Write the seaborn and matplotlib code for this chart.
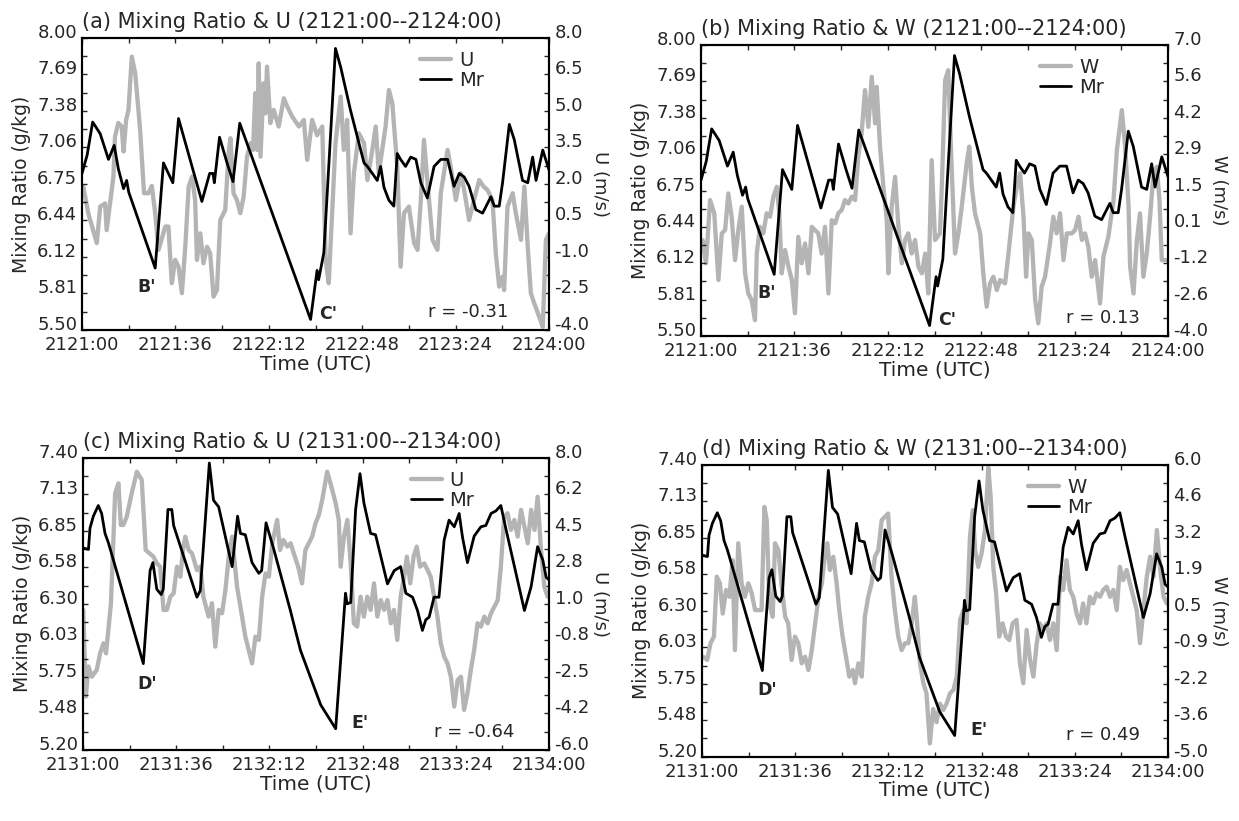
import numpy as np
import matplotlib
matplotlib.use('Agg')
import matplotlib.pyplot as plt
import seaborn as sns

# seconds after the start of each 3-minute window
mr1_t = [0, 2.0, 4.1, 7.0, 10.2, 12.4, 14.0, 16.0, 17.2, 18.0, 28.2, 31.4, 35.0, 37.2, 46.2, 49.2, 50.5, 51.0, 53.0, 55.9,
         58.2, 60.8, 61.6, 88.1, 90.6, 91.2, 93.2, 97.7, 99.7, 103.5, 108.7, 110.0, 111.9, 113.8, 115.1, 116.4, 118.3, 120.2, 121.5, 122.8,
         124.7, 126.7, 128.7, 130.6, 133.1, 135.7, 138.3, 140.9, 143.4, 145.4, 147.3, 149.2, 151.8, 154.4, 157.6, 158.9, 160.8, 162.1, 164.7, 166.6,
         169.8, 171.8, 173.7, 175.0, 177.6, 180.0]
mr1 = [6.84, 7.0, 7.28, 7.18, 6.96, 7.08, 6.88, 6.71, 6.78, 6.68, 6.03, 6.93, 6.76, 7.31, 6.60, 6.84, 6.84, 6.76, 7.15, 6.93,
       6.77, 7.27, 7.22, 5.59, 6.01, 5.93, 6.16, 7.91, 7.75, 7.38, 6.93, 6.90, 6.84, 6.78, 6.90, 6.72, 6.61, 6.56, 7.01, 6.96,
       6.90, 6.98, 6.96, 6.76, 6.63, 6.90, 6.96, 6.96, 6.73, 6.84, 6.81, 6.73, 6.53, 6.50, 6.64, 6.56, 6.56, 6.76, 7.26, 7.13,
       6.78, 6.76, 6.98, 6.78, 7.04, 6.87]

u1_t = [0.5, 2.4, 5.7, 7.0, 8.9, 9.5, 10.8, 12.1, 12.7, 14.0, 15.3, 16.0, 17.0, 17.9, 19.2, 20.5, 22.4, 23.9, 25.6, 26.9,
        28.2, 29.5, 32.1, 33.3, 34.6, 35.9, 37.2, 38.5, 39.8, 41.1, 42.4, 43.6, 44.3, 45.6, 46.8, 48.2, 49.4, 50.7, 52.0, 53.3,
        55.2, 56.5, 57.2, 58.4, 59.7, 61.0, 62.3, 63.6, 64.9, 65.9, 66.8, 67.5, 68.1, 68.8, 70.0, 70.7, 71.3, 72.6, 73.9, 75.8,
        77.8, 79.1, 81.0, 83.6, 85.5, 86.8, 88.7, 90.6, 92.6, 93.9, 95.1, 97.7, 99.7, 100.9, 102.2, 103.5, 104.8, 106.7, 108.7, 110.0,
        111.9, 113.2, 114.4, 117.0, 118.3, 119.6, 121.5, 122.8, 124.1, 126.0, 128.0, 129.3, 130.6, 131.8, 133.1, 135.1, 137.0, 138.3, 140.9, 142.1,
        144.1, 146.0, 147.3, 149.2, 151.1, 153.1, 154.8, 156.3, 158.2, 159.5, 160.8, 162.1, 162.7, 164.0, 166.0, 167.2, 169.2, 170.5, 171.8, 173.0,
        174.3, 176.2, 177.6, 178.8, 180.0]
u1 = [1.89, 0.8, -0.43, 1.07, 1.2, 0.1, 1.2, 2.3, 3.94, 4.5, 4.36, 3.33, 4.63, 5.04, 7.23, 6.55, 4.22, 1.62, 1.62, 1.92,
      0.8, -0.71, 0.25, 0.25, -2.08, -1.12, -1.4, -2.49, -0.58, 1.89, 2.3, 1.34, -1.12, -0.03, -1.26, -0.58, -0.85, -2.63, -2.36, 0.52,
      0.93, 3.26, 3.88, 1.62, 1.34, 0.8, 1.48, 3.12, 3.67, 3.4, 5.73, 3.4, 6.96, 3.12, 6.14, 4.9, 6.82, 4.5, 5.04, 4.36,
      5.52, 5.18, 4.77, 4.36, 4.63, 2.99, 4.63, 4.0, 4.36, -1.12, -2.08, 3.67, 5.59, 3.4, 4.63, -0.03, 2.44, 4.08, 3.67, 2.16,
      3.4, 4.36, 2.44, 4.36, 5.86, 5.32, 2.71, -1.4, 0.8, 1.07, -0.43, -0.71, 1.34, 3.81, 2.16, -0.3, -0.71, 1.62, 3.4, 2.71,
      1.34, 2.44, 1.75, 0.52, 1.34, 2.16, 1.89, 1.75, 1.34, -0.85, -2.22, -1.81, -2.36, 1.07, 1.62, 0.8, -0.3, 1.89, -0.58, -2.49,
      -2.9, -3.45, -3.87, -0.3, -0.03]

w1_t = [0.6, 1.9, 3.5, 5.1, 6.7, 8.0, 9.3, 10.5, 11.8, 13.1, 14.4, 15.7, 17.0, 18.2, 19.5, 20.8, 21.5, 22.7, 24.0, 25.3,
        26.6, 27.9, 29.2, 30.2, 31.1, 32.4, 33.7, 35.0, 36.2, 37.5, 38.8, 40.1, 41.4, 42.7, 43.9, 45.2, 46.5, 47.8, 49.1, 50.4,
        51.7, 52.9, 54.2, 55.5, 56.8, 58.1, 59.4, 60.6, 61.9, 63.2, 64.5, 65.8, 67.1, 67.7, 69.0, 70.3, 71.6, 72.2, 73.5, 74.8,
        76.1, 77.4, 78.6, 79.9, 81.2, 82.5, 83.8, 85.1, 86.4, 87.6, 88.9, 90.2, 92.1, 92.8, 94.1, 95.3, 96.6, 97.9, 99.2, 100.5,
        102.4, 103.4, 104.4, 105.6, 107.6, 108.8, 110.1, 111.4, 112.7, 114.0, 115.3, 117.2, 118.5, 120.4, 121.7, 123.0, 124.3, 125.3, 126.2, 127.5,
        128.8, 130.0, 131.3, 132.6, 134.5, 135.8, 137.1, 138.4, 139.7, 141.0, 142.9, 144.2, 145.5, 146.8, 148.0, 149.3, 150.6, 151.9, 153.8, 155.1,
        157.0, 159.0, 160.3, 162.2, 163.5, 164.8, 165.4, 166.7, 168.0, 169.2, 170.5, 171.8, 173.1, 174.4, 175.7, 176.7, 177.6, 179.5]
w1 = [-0.37, -1.25, 1.14, 0.64, -1.88, -0.12, 0.01, 1.39, 0.51, -1.13, 0.01, 0.89, -1.63, -2.39, -2.64, -3.40, -0.88, 0.13, -0.12, 0.64,
      0.51, 1.27, 1.64, 0.64, -1.63, -0.75, -1.38, -1.88, -3.14, -0.25, -1.25, -0.50, -1.63, 0.13, 0.01, -0.12, -0.88, 0.13, -2.39, 0.38,
      0.26, 0.64, 0.76, 1.14, 1.01, 1.27, 1.14, 2.78, 3.66, 5.30, 3.91, 5.80, 4.04, 5.42, 3.16, 1.64, 0.38, -1.63, 0.89, 2.02,
      0.13, -1.25, -0.37, -0.12, -0.88, -0.37, -1.38, -1.63, -0.88, -2.39, 2.65, -0.37, -0.12, 1.64, 5.68, 6.05, 2.40, -0.88, -0.12, 0.89,
      2.53, 3.16, 1.64, 0.64, -0.12, -1.63, -2.89, -2.01, -1.76, -2.26, -1.88, -2.01, -0.88, 0.89, 1.64, 2.15, 0.51, -1.76, -0.12, -0.37,
      -2.64, -3.52, -2.14, -1.76, -0.50, 0.51, -0.12, 0.64, -1.13, -0.12, -0.12, 0.01, 0.51, -0.37, -0.12, -0.63, -1.76, -1.13, -2.77, -1.00,
      -0.25, 1.14, 3.03, 4.54, 3.16, 0.89, -1.38, -2.39, -0.37, 0.64, -1.76, -0.88, 0.51, 2.15, 2.40, 1.14, -1.13, -1.13]

mr2_t = [0.1, 2.1, 2.7, 4.0, 5.9, 7.2, 8.5, 9.8, 23.3, 25.9, 27.0, 28.5, 30.2, 31.0, 32.8, 34.3, 35.0, 44.0, 45.3, 48.8,
         50.4, 52.4, 57.6, 59.7, 60.8, 62.7, 65.3, 67.9, 69.0, 70.7, 73.7, 80.1, 84.0, 91.8, 97.6, 101.4, 102.0, 103.4, 105.3, 107.0,
         108.5, 111.1, 113.0, 117.6, 118.9, 120.2, 122.7, 124.7, 127.3, 129.2, 131.1, 132.4, 133.7, 135.6, 137.5, 139.5, 141.4, 143.4, 145.3, 146.6,
         148.5, 151.1, 153.7, 155.6, 157.6, 159.5, 161.4, 163.4, 170.5, 173.1, 175.6, 177.6, 178.9, 180.0]
mr2 = [6.72, 6.71, 6.87, 6.96, 7.04, 6.98, 6.83, 6.76, 5.85, 6.55, 6.61, 6.41, 6.37, 6.41, 7.01, 7.01, 6.89, 6.35, 6.40, 7.36,
       7.08, 7.03, 6.58, 6.96, 6.83, 6.82, 6.61, 6.53, 6.55, 6.91, 6.71, 6.25, 5.95, 5.54, 5.36, 6.38, 6.30, 6.31, 7.01, 7.28,
       7.06, 6.83, 6.82, 6.45, 6.50, 6.55, 6.58, 6.38, 6.35, 6.25, 6.10, 6.18, 6.20, 6.35, 6.35, 6.78, 6.93, 6.88, 6.98, 6.80,
       6.61, 6.81, 6.88, 6.89, 6.98, 7.00, 7.04, 6.86, 6.25, 6.43, 6.73, 6.63, 6.50, 6.48]

u2_t = [0.1, 1.1, 2.1, 3.4, 5.3, 6.6, 7.9, 8.9, 9.8, 10.8, 12.4, 13.7, 14.6, 15.6, 16.9, 18.8, 20.8, 22.7, 24.2, 25.7,
        27.2, 28.5, 29.8, 31.1, 32.4, 33.7, 35.0, 36.3, 37.6, 38.6, 39.5, 40.8, 42.1, 44.0, 45.3, 46.5, 48.5, 49.8, 51.1, 52.4,
        53.7, 55.0, 56.3, 57.6, 59.5, 60.8, 62.7, 64.0, 65.3, 66.6, 67.9, 69.2, 70.5, 71.8, 73.1, 75.0, 76.1, 77.4, 78.9, 80.2,
        81.4, 83.1, 84.6, 85.9, 87.2, 88.5, 89.8, 91.1, 92.4, 94.3, 95.6, 97.6, 98.8, 99.5, 100.8, 102.1, 103.4, 104.6, 105.9, 107.2,
        108.5, 109.8, 111.1, 112.4, 113.7, 115.0, 116.3, 117.6, 118.9, 120.1, 121.4, 122.7, 124.0, 125.1, 126.4, 127.7, 128.9, 130.2, 131.8, 133.1,
        134.3, 135.6, 136.9, 138.2, 139.5, 140.8, 142.1, 143.4, 144.7, 146.0, 147.2, 148.5, 149.8, 151.1, 152.4, 153.7, 155.0, 156.3, 157.6, 158.9,
        160.2, 161.4, 162.7, 164.0, 165.3, 166.6, 167.9, 169.2, 170.5, 171.8, 173.1, 174.4, 175.6, 176.9, 178.2, 179.5]
u2 = [0.71, -3.44, -2.0, -2.49, -2.17, -1.37, -0.89, -1.37, -0.25, 1.03, 6.29, 6.77, 4.78, 4.78, 5.18, 6.29, 7.33, 6.93, 3.58, 3.42,
      3.26, 2.94, 2.78, 0.71, 0.71, 1.34, 1.5, 2.78, 2.30, 3.58, 4.22, 3.58, 3.42, 2.62, 2.78, 1.34, 0.39, 1.03, -1.05, 0.71,
      0.55, 1.66, 3.26, 4.22, 1.82, 0.87, -0.57, -1.21, -1.85, -0.57, -0.73, 1.34, 2.46, 2.30, 3.90, 5.02, 3.58, 4.06, 3.74, 3.90,
      3.42, 2.78, 1.98, 3.58, 3.90, 4.22, 4.86, 5.26, 5.98, 7.33, 6.77, 5.82, 5.02, 2.78, 4.22, 5.02, 2.94, 0.07, -0.09, 1.34,
      0.39, 1.34, 0.71, 1.98, 0.39, 1.18, 0.71, 1.18, 0.07, 0.71, -0.73, 1.34, 2.30, 3.26, 1.98, 3.26, 3.74, 2.78, 2.94, 2.62,
      2.30, 1.34, 0.39, -0.89, -1.53, -1.85, -2.49, -3.92, -2.65, -2.49, -4.08, -3.28, -2.17, -1.21, 0.07, -0.09, 0.39, 0.07, 0.55, 0.87,
      1.18, 2.78, 5.18, 5.34, 4.54, 5.02, 4.22, 5.50, 4.70, 3.90, 5.50, 4.54, 6.13, 3.58, 1.82, 1.34]

w2_t = [0.5, 2.0, 3.3, 4.6, 5.7, 6.9, 8.0, 9.3, 10.6, 11.8, 12.7, 14.0, 15.3, 16.6, 17.9, 19.2, 20.5, 21.8, 23.0, 24.1,
        25.0, 26.0, 27.3, 28.2, 29.5, 30.8, 32.1, 33.3, 34.6, 35.9, 37.2, 38.5, 39.8, 41.1, 42.4, 43.7, 45.0, 46.3, 47.5, 48.4,
        49.4, 50.7, 52.0, 53.0, 54.3, 55.6, 56.9, 58.2, 59.1, 60.4, 61.7, 62.9, 64.2, 65.5, 66.8, 68.1, 69.4, 70.7, 71.9, 73.2,
        74.5, 75.8, 77.1, 78.4, 79.7, 81.0, 82.2, 82.9, 84.2, 85.5, 86.7, 88.0, 89.3, 90.6, 91.9, 93.2, 94.5, 95.8, 97.1, 98.4,
        99.7, 101.0, 102.2, 103.5, 104.6, 105.5, 106.7, 108.0, 109.3, 110.6, 111.5, 112.5, 113.6, 114.8, 116.1, 117.4, 118.7, 120.0, 121.5, 122.8,
        124.1, 125.4, 126.7, 128.0, 129.3, 130.5, 131.8, 133.1, 134.4, 135.7, 137.0, 138.3, 139.5, 140.8, 142.1, 143.4, 144.7, 146.0, 147.2, 148.5,
        149.8, 151.1, 152.4, 153.7, 155.0, 156.3, 157.6, 158.9, 160.2, 161.4, 162.7, 164.0, 165.3, 166.6, 167.9, 169.2, 170.5, 171.8, 173.1, 174.4,
        175.7, 177.0, 178.3, 179.5]
w2 = [-1.23, -1.35, -0.72, -0.47, 1.79, 1.54, 0.40, 1.29, 1.03, 2.41, -0.98, 3.05, 1.54, 1.03, 1.54, 1.16, 0.53, 0.53, 0.53, 4.42,
      3.92, 0.78, 0.28, 3.05, 2.79, 1.41, 0.28, 0.03, -1.35, -0.47, -0.72, -1.48, -1.23, -1.73, -0.98, 0.03, 1.03, 1.54, 2.67, 3.05,
      2.04, 2.54, 1.54, 0.53, -0.47, -1.23, -1.98, -1.73, -2.23, -1.48, -1.98, 0.28, 1.03, 1.54, 2.54, 2.79, 3.92, 4.05, 4.17, 1.79,
      0.53, -0.47, -0.98, -0.72, -0.72, 0.03, 1.03, 0.28, -1.48, -2.23, -2.61, -4.50, -3.20, -3.70, -3.00, -3.24, -2.99, -2.61, -2.48, -1.98,
      0.16, 0.53, 0.03, 3.30, 4.30, 2.79, 2.16, 2.67, 3.55, 5.90, 4.80, 2.16, 1.16, -0.47, 0.03, -0.47, -0.60, 0.03, 0.16, -1.48,
      -2.23, -0.22, -1.35, -1.98, -0.72, 0.03, -0.22, 0.03, -0.60, 0.03, -0.98, 1.79, 1.29, 2.41, 1.29, 1.03, 0.40, 0.03, 0.78, 0.03,
      1.03, 0.78, 1.16, 1.03, 1.29, 1.41, 1.03, 1.29, 0.53, 2.16, 1.66, 2.04, 1.54, 1.03, 0.53, -0.72, 0.53, 1.79, 2.54, 1.79,
      3.55, 2.04, 1.03, 0.78]

times1 = ['2121:00', '2121:36', '2122:12', '2122:48', '2123:24', '2124:00']
times2 = ['2131:00', '2131:36', '2132:12', '2132:48', '2133:24', '2134:00']
mr_ticks1 = ['5.50', '5.81', '6.12', '6.44', '6.75', '7.06', '7.38', '7.69', '8.00']
mr_ticks2 = ['5.20', '5.48', '5.75', '6.03', '6.30', '6.58', '6.85', '7.13', '7.40']
u_ticks1 = ['-4.0', '-2.5', '-1.0', '0.5', '2.0', '3.5', '5.0', '6.5', '8.0']
w_ticks1 = ['-4.0', '-2.6', '-1.2', '0.1', '1.5', '2.9', '4.2', '5.6', '7.0']
u_ticks2 = ['-6.0', '-4.2', '-2.5', '-0.8', '1.0', '2.8', '4.5', '6.2', '8.0']
w_ticks2 = ['-5.0', '-3.6', '-2.2', '-0.9', '0.5', '1.9', '3.2', '4.6', '6.0']

sns.set_style('ticks')
plt.rcParams['font.family'] = ['DejaVu Sans']

GRAY = '#b4b4b4'
fig = plt.figure(figsize=(12.39, 8.21), dpi=100)


def panel(pos, mr_t, mr, v_t, v, vname, mr_lim, mr_labels, v_lim, v_labels, time_labels,
          title, notes, r_text, r_xy, leg_x):
    ax = fig.add_axes(pos)
    ax2 = ax.twinx()
    sns.lineplot(x=v_t, y=v, ax=ax2, color=GRAY, linewidth=3.1, label=vname, legend=False)
    sns.lineplot(x=mr_t, y=mr, ax=ax, color='black', linewidth=2.0, label='Mr', legend=False)
    ax.set_zorder(ax2.get_zorder() + 1)
    ax.patch.set_visible(False)

    ax.set_xlim(0, 180)
    ax.set_xticks(np.arange(0, 181, 36))
    ax.set_xticks(np.arange(18, 180, 36), minor=True)
    ax.set_xticklabels(time_labels)

    ax.set_ylim(*mr_lim)
    ax.set_yticks(np.linspace(mr_lim[0], mr_lim[1], 9))
    ax.set_yticks(np.linspace(mr_lim[0], mr_lim[1], 17), minor=True)
    ax.set_yticklabels(mr_labels)
    ax2.set_ylim(*v_lim)
    ax2.set_yticks(np.linspace(v_lim[0], v_lim[1], 9))
    ax2.set_yticks(np.linspace(v_lim[0], v_lim[1], 17), minor=True)
    ax2.set_yticklabels(v_labels)
    plt.setp(ax.get_yticklabels(), va='baseline')
    plt.setp(ax2.get_yticklabels(), va='baseline')

    ax.tick_params(which='both', direction='in', top=True, bottom=True, left=True, right=False,
                   length=3.5, width=1, labelsize=13, pad=3.5)
    ax.tick_params(axis='x', pad=4.5)
    ax2.tick_params(which='both', direction='in', right=True, length=3.5, width=1, labelsize=13, pad=4)
    for a in (ax, ax2):
        for s in a.spines.values():
            s.set_linewidth(1.5)
            s.set_color('black')

    ax.set_xlabel('Time (UTC)', fontsize=14.5, labelpad=0)
    ax.set_ylabel('Mixing Ratio (g/kg)', fontsize=13.5, labelpad=4)
    ax2.set_ylabel(vname + ' (m/s)', fontsize=13, rotation=270, va='bottom', labelpad=1)
    ax.set_title(title, loc='left', fontsize=15, pad=7)

    for txt, t, val in notes:
        ax.text(t, val, txt, fontsize=12.5, fontweight='bold', ha='center', va='center')
    ax.text(r_xy[0], r_xy[1], r_text, transform=ax.transAxes, fontsize=13, ha='center', va='center')

    handles = [ax2.get_lines()[0], ax.get_lines()[0]]
    ax.legend(handles, [vname, 'Mr'], loc='upper left', bbox_to_anchor=(leg_x, 0.955),
              frameon=False, fontsize=14, handlelength=1.6, handletextpad=0.4,
              labelspacing=0.05, borderaxespad=0, borderpad=0)


panel([0.0662, 0.5981, 0.3769, 0.3557], mr1_t, mr1, u1_t, u1, 'U', (5.5, 8.0), mr_ticks1,
      (-4.0, 8.0), u_ticks1, times1, '(a) Mixing Ratio & U (2121:00--2124:00)',
      [("B'", 25.0, 5.87), ("C'", 94.8, 5.64)], 'r = -0.31', (0.827, 0.063), 0.724)
panel([0.5658, 0.5907, 0.3769, 0.3544], mr1_t, mr1, w1_t, w1, 'W', (5.5, 8.0), mr_ticks1,
      (-4.0, 7.0), w_ticks1, times1, '(b) Mixing Ratio & W (2121:00--2124:00)',
      [("B'", 25.3, 5.87), ("C'", 94.7, 5.64)], 'r = 0.13', (0.861, 0.061), 0.726)
panel([0.0670, 0.0865, 0.3761, 0.3560], mr2_t, mr2, u2_t, u2, 'U', (5.2, 7.4), mr_ticks2,
      (-6.0, 8.0), u_ticks2, times2, '(c) Mixing Ratio & U (2131:00--2134:00)',
      [("D'", 24.6, 5.70), ("E'", 106.9, 5.40)], 'r = -0.64', (0.839, 0.063), 0.703)
panel([0.5666, 0.0783, 0.3761, 0.3553], mr2_t, mr2, w2_t, w2, 'W', (5.2, 7.4), mr_ticks2,
      (-5.0, 6.0), w_ticks2, times2, '(d) Mixing Ratio & W (2131:00--2134:00)',
      [("D'", 25.2, 5.70), ("E'", 107.0, 5.40)], 'r = 0.49', (0.861, 0.074), 0.70)

fig.savefig('out.png', dpi=100)
